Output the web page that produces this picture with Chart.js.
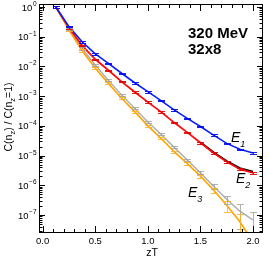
<!DOCTYPE html>
<html>
<head>
<meta charset="utf-8">
<script src="https://cdn.jsdelivr.net/npm/chart.js@4.4.0/dist/chart.umd.min.js"></script>
<style>
	html, body { margin: 0; padding: 0; background: #fff; }
	#wrap { width: 270px; height: 258px; }
</style>
</head>
<body>
<div id="wrap"><canvas id="chart" width="270" height="258"></canvas></div>
<script>
const zT = [0.125, 0.25, 0.375, 0.5, 0.625, 0.75, 0.875, 1.0, 1.125, 1.25, 1.375, 1.5, 1.625, 1.75, 1.875, 2.0]

const corrE1 = [1, 0.219, 0.0676, 0.0263, 0.0126, 0.00589, 0.00282, 0.00141, 7.08e-4, 3.47e-4, 1.78e-4, 9.55e-5, 4.90e-5, 2.57e-5, 1.62e-5, 1.23e-5]
const corrE2 = [1, 0.200, 0.0501, 0.0174, 0.00741, 0.00309, 0.00138, 6.31e-4, 2.95e-4, 1.29e-4, 6.03e-5, 2.69e-5, 1.23e-5, 6.17e-6, 3.47e-6, 2.63e-6]
const corrGray = [1, 0.182, 0.0407, 0.0112, 0.00339, 0.00110, 3.89e-4, 1.35e-4, 5.25e-5, 1.91e-5, 7.08e-6, 2.63e-6, 9.33e-7, 3.39e-7, 1.35e-7, 6.76e-8]
const corrE3 = [1, 0.166, 0.0339, 0.00871, 0.00269, 8.51e-4, 3.02e-4, 1.00e-4, 3.80e-5, 1.35e-5, 5.37e-6, 2.04e-6, 6.92e-7, 2.14e-7, 5.89e-8, 1.26e-8]

// relative errors
const errE1 = [0.05, 0.06, 0.06, 0.06, 0.06, 0.06, 0.06, 0.06, 0.06, 0.06, 0.06, 0.06, 0.06, 0.06, 0.06, 0.06]
const errE2 = [0.05, 0.06, 0.06, 0.06, 0.06, 0.06, 0.06, 0.06, 0.06, 0.06, 0.06, 0.06, 0.06, 0.07, 0.07, 0.07]
const errGray = [0.05, 0.08, 0.1, 0.08, 0.08, 0.08, 0.08, 0.08, 0.08, 0.08, 0.1, 0.12, 0.18, 0.3, 0.75, 0.9]
const errE3 = [0.05, 0.08, 0.12, 0.08, 0.08, 0.08, 0.08, 0.08, 0.08, 0.08, 0.1, 0.12, 0.18, 0.4, 0.8, 0.9]

// fit curve over E2 at large zT
const fitZ = [1.5, 1.625, 1.75, 1.875, 2.0]
const fitE2 = [2.8e-5, 1.3e-5, 6.6e-6, 3.8e-6, 2.9e-6]

const xLabels = [0, 0.5, 1.0, 1.5, 2.0]
const yExps = [0, -1, -2, -3, -4, -5, -6, -7]

const FONT = '"Liberation Sans", Arial, sans-serif'
const BLUE = '#0a1fff'
const RED = '#ff0a0a'
const GRAY = '#a8a8a8'
const ORANGE = '#ffa500'

const pts = (xs, ys) => xs.map((x, i) => ({ x: x, y: ys[i] }))

const errorSets = [
	{ values: corrGray, err: errGray, color: 'rgba(160,160,160,0.8)' },
	{ values: corrE3, err: errE3, color: 'rgba(255,175,30,0.85)' },
	{ values: corrE2, err: errE2, color: 'rgba(225,0,0,0.9)' },
	{ values: corrE1, err: errE1, color: 'rgba(0,10,235,0.9)' }
]

const decorations = {
	id: 'decorations',
	afterDatasetsDraw(chart) {
		const { ctx, chartArea: a, scales: { x, y } } = chart
		ctx.save()
		ctx.beginPath()
		ctx.rect(a.left, a.top, a.right - a.left, a.bottom - a.top)
		ctx.clip()
		ctx.lineWidth = 1
		errorSets.forEach(s => {
			ctx.strokeStyle = s.color
			s.values.forEach((v, i) => {
				const px = Math.round(x.getPixelForValue(zT[i])) + 0.5
				const hi = Math.round(y.getPixelForValue(v * (1 + s.err[i]))) + 0.5
				const loV = v * (1 - s.err[i])
				const lo = loV > 0 ? Math.round(y.getPixelForValue(loV)) + 0.5 : a.bottom + 5
				ctx.beginPath()
				ctx.moveTo(px, hi)
				ctx.lineTo(px, lo)
				ctx.moveTo(px - 3.5, hi)
				ctx.lineTo(px + 3.5, hi)
				ctx.moveTo(px - 3.5, lo)
				ctx.lineTo(px + 3.5, lo)
				ctx.stroke()
			})
		})
		ctx.restore()
	},
	afterDraw(chart) {
		const { ctx, chartArea: a, scales: { x, y } } = chart
		ctx.save()
		ctx.strokeStyle = '#000'
		ctx.lineWidth = 1
		ctx.strokeRect(a.left + 0.5, a.top + 0.5, a.right - a.left - 1, a.bottom - a.top - 1)

		// x ticks, bottom and top
		ctx.beginPath()
		for (let k = 0; k <= 20; k++) {
			const v = k / 10
			const px = Math.round(x.getPixelForValue(v)) + 0.5
			const len = k % 5 === 0 ? 7 : 4
			ctx.moveTo(px, a.bottom)
			ctx.lineTo(px, a.bottom - len)
			ctx.moveTo(px, a.top)
			ctx.lineTo(px, a.top + len)
		}
		// y ticks, left and right
		for (let d = -8; d <= 0; d++) {
			for (let m = 1; m <= 9; m++) {
				const v = m * Math.pow(10, d)
				if (v < y.min || v > y.max) continue
				const py = Math.round(y.getPixelForValue(v)) + 0.5
				const len = m === 1 ? 6 : 3.5
				ctx.moveTo(a.left, py)
				ctx.lineTo(a.left + len, py)
				ctx.moveTo(a.right, py)
				ctx.lineTo(a.right - len, py)
			}
		}
		ctx.stroke()

		// y tick labels 10^n
		ctx.fillStyle = '#000'
		ctx.textBaseline = 'alphabetic'
		yExps.forEach(e => {
			const py = y.getPixelForValue(Math.pow(10, e))
			const exp = e === 0 ? '0' : '\u2212' + (-e)
			ctx.font = '6.5px ' + FONT
			const ew = ctx.measureText(exp).width
			ctx.textAlign = 'right'
			ctx.fillText(exp, 36.5, py - 1)
			ctx.font = '9.5px ' + FONT
			ctx.fillText('10', 36.5 - ew - 0.5, py + 3.5)
		})

		// y axis title with subscripts
		const parts = [['C(n', 0], ['z', 1], [') / C(n', 0], ['z', 1], ['=1)', 0]]
		const mainFont = '10.5px ' + FONT
		const subFont = '7.5px ' + FONT
		let total = 0
		parts.forEach(p => {
			ctx.font = p[1] ? subFont : mainFont
			total += ctx.measureText(p[0]).width
		})
		ctx.translate(12, 117)
		ctx.rotate(-Math.PI / 2)
		ctx.textAlign = 'left'
		let cx = -total / 2
		parts.forEach(p => {
			ctx.font = p[1] ? subFont : mainFont
			ctx.fillText(p[0], cx, p[1] ? 2.5 : 0)
			cx += ctx.measureText(p[0]).width
		})
		ctx.setTransform(1, 0, 0, 1, 0, 0)

		// x axis title
		ctx.font = '10.5px ' + FONT
		ctx.textAlign = 'center'
		ctx.fillText('zT', 152, 256)

		// info text
		ctx.font = 'bold 15px ' + FONT
		ctx.textAlign = 'left'
		ctx.fillText('320 MeV', 188, 38)
		ctx.fillText('32x8', 188, 54)

		// curve labels
		const labels = [['E', '1', 231, 142], ['E', '2', 236, 183], ['E', '3', 188, 197]]
		labels.forEach(l => {
			ctx.font = 'italic 14px ' + FONT
			ctx.fillText(l[0], l[2], l[3])
			const w = ctx.measureText(l[0]).width
			ctx.font = 'italic 9px ' + FONT
			ctx.fillText(l[1], l[2] + w, l[3] + 4.5)
		})
		ctx.restore()
	}
}

new Chart(document.getElementById('chart'), {
	type: 'line',
	data: {
		datasets: [
			{ data: pts(zT, corrE1), borderColor: BLUE, borderWidth: 1.6, order: 1 },
			{ data: pts(zT, corrE2), borderColor: RED, borderWidth: 1.8, order: 2 },
			{ data: pts(fitZ, fitE2), borderColor: '#000', borderWidth: 1.8, order: 3 },
			{ data: pts(zT, corrGray), borderColor: GRAY, borderWidth: 1.3, order: 5 },
			{ data: pts(zT, corrE3), borderColor: ORANGE, borderWidth: 1.6, order: 4 }
		]
	},
	options: {
		responsive: false,
		animation: false,
		elements: { point: { radius: 0 }, line: { tension: 0, fill: false } },
		layout: { padding: { top: 4, right: 7, left: 0, bottom: 0 } },
		plugins: { legend: { display: false }, tooltip: { enabled: false } },
		scales: {
			x: {
				type: 'linear',
				min: -0.035,
				max: 2.095,
				grid: { display: false, drawTicks: false },
				border: { display: false },
				ticks: {
					color: '#000',
					padding: 3,
					font: { family: FONT, size: 9.5 },
					maxRotation: 0,
					callback: v => v.toFixed(1)
				},
				afterBuildTicks: s => { s.ticks = xLabels.map(v => ({ value: v })) },
				afterFit: s => { s.height = 25 }
			},
			y: {
				type: 'logarithmic',
				min: 2.48e-8,
				max: 1.262,
				grid: { display: false, drawTicks: false },
				border: { display: false },
				ticks: { display: false },
				afterFit: s => { s.width = 39 }
			}
		}
	},
	plugins: [decorations]
})
</script>
</body>
</html>
